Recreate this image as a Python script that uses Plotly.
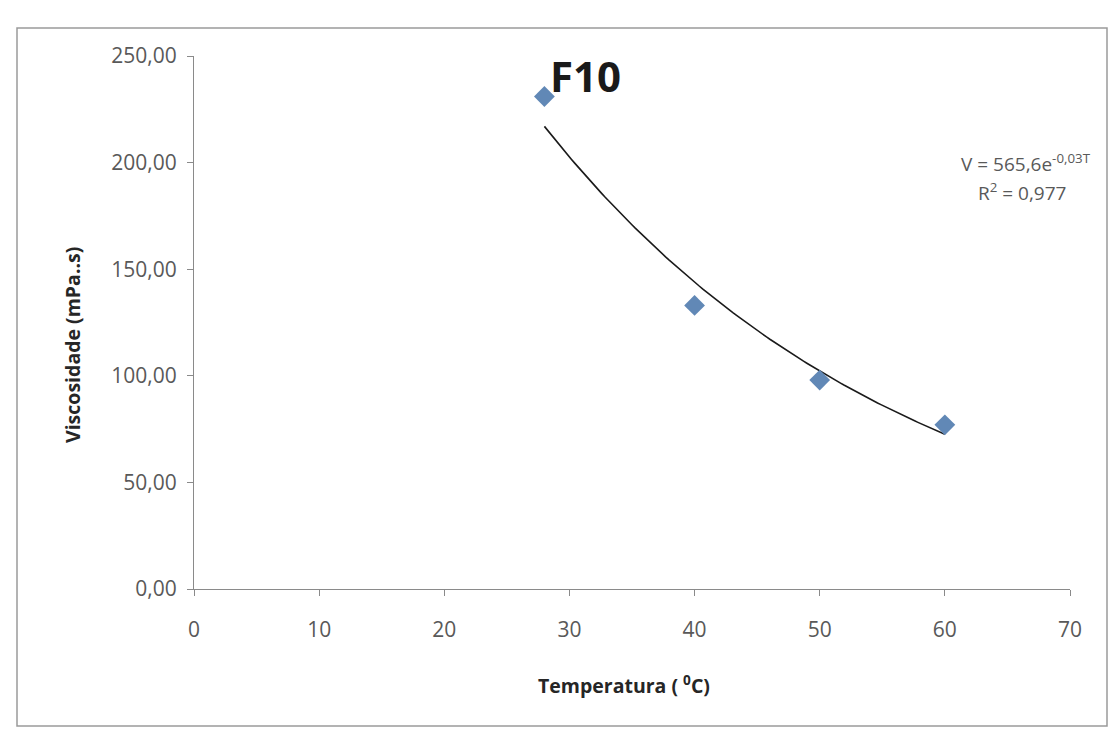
import numpy as np
import plotly.graph_objects as go

# Measured viscosity of sample F10 at each temperature
temperatura = [28, 40, 50, 60]          # °C
viscosidade = [231, 133, 98, 77]        # mPa.s

x_ticks = [0, 10, 20, 30, 40, 50, 60, 70]
y_ticks = [0, 50, 100, 150, 200, 250]
y_tick_text = ["0,00", "50,00", "100,00", "150,00", "200,00", "250,00"]

# Exponential trendline V = a*exp(b*T), fitted on ln(V)
b, ln_a = np.polyfit(temperatura, np.log(viscosidade), 1)
a = np.exp(ln_a)
t_fit = np.linspace(min(temperatura), max(temperatura), 120)
v_fit = a * np.exp(b * t_fit)

W, H = 1115, 740
L, R, T, B = 194, 45, 56, 151
pw, ph = W - L - R, H - T - B


def px(x):
    return (x - L) / pw


def py(y):
    return (H - B - y) / ph


axis_col = "#8a8a8a"
tick_font = dict(family="Open Sans", size=21, color="#595959")

fig = go.Figure()
fig.add_trace(go.Scatter(
    x=t_fit, y=v_fit, mode="lines",
    line=dict(color="#1a1a1a", width=1.6),
    hoverinfo="skip", showlegend=False,
))
fig.add_trace(go.Scatter(
    x=temperatura, y=viscosidade, mode="markers",
    marker=dict(symbol="diamond", size=16, color="#6188b6"),
    showlegend=False,
))

fig.update_xaxes(
    range=[0, 70], tickvals=x_ticks, showgrid=False, zeroline=False,
    showline=True, linecolor=axis_col, linewidth=1.2,
    ticks="outside", ticklen=6, tickcolor=axis_col,
    tickfont=tick_font, ticklabelstandoff=16,
)
fig.update_yaxes(
    range=[0, 250], tickvals=y_ticks, ticktext=y_tick_text,
    showgrid=False, zeroline=False,
    showline=True, linecolor=axis_col, linewidth=1.2,
    ticks="outside", ticklen=6, tickcolor=axis_col,
    tickfont=tick_font, ticklabelstandoff=6,
)

title_font = dict(family="Open Sans", size=19.5, color="#262626", weight="bold")
annotations = [
    dict(x=px(585), y=py(75), text="F10",
         font=dict(family="Open Sans", size=42, color="#1a1a1a", weight="bold")),
    dict(x=px(72), y=py(345), text="Viscosidade (mPa..s)", textangle=-90,
         font=title_font),
    dict(x=px(624), y=py(684), text="Temperatura ( <sup>0</sup>C)",
         font=title_font),
    dict(x=px(1026), y=py(163), text="V = 565,6e<sup>-0,03T</sup>",
         font=dict(family="Open Sans", size=19, color="#595959")),
    dict(x=px(1022), y=py(192), text="R<sup>2</sup> = 0,977",
         font=dict(family="Open Sans", size=19, color="#595959")),
]
for ann in annotations:
    ann.update(xref="paper", yref="paper", showarrow=False,
               xanchor="center", yanchor="middle")

fig.update_layout(
    width=W, height=H, autosize=False,
    margin=dict(l=L, r=R, t=T, b=B),
    paper_bgcolor="white", plot_bgcolor="white",
    annotations=annotations,
    shapes=[dict(type="rect", xref="paper", yref="paper",
                 x0=px(17), x1=px(1107), y0=py(726), y1=py(28),
                 line=dict(color="#9a9a9a", width=1.5))],
)

fig.write_html("out.html")
